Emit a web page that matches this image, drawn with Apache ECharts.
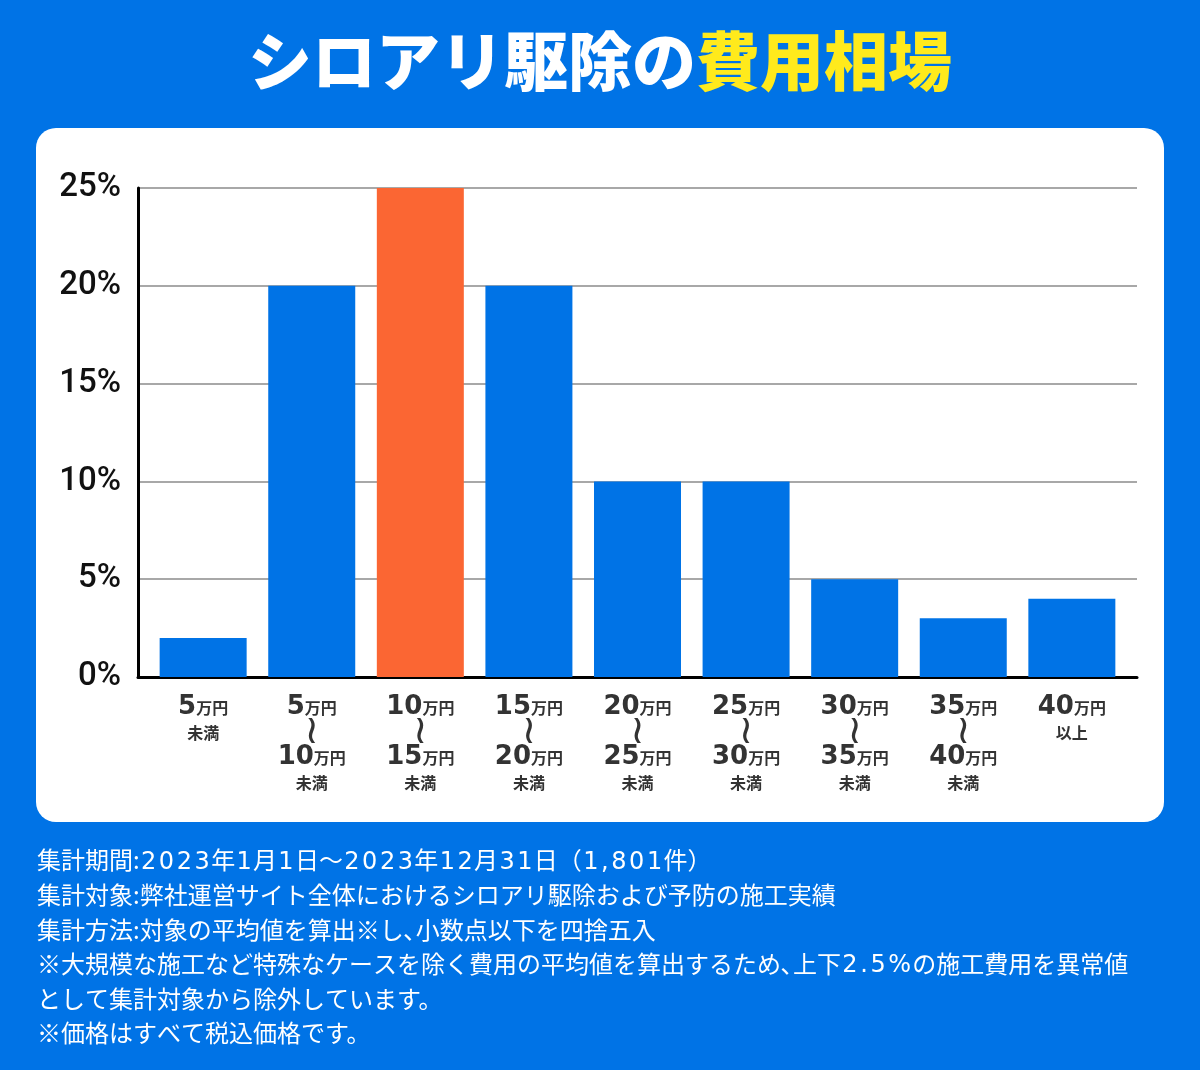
<!DOCTYPE html>
<html>
<head>
<meta charset="utf-8">
<script src="https://cdn.jsdelivr.net/npm/echarts@6/dist/echarts.min.js"></script>
<style>
html,body{margin:0;padding:0;background:#0073E6;}
#chart{width:1200px;height:1070px;}
</style>
</head>
<body>
<div id="chart"></div>
<script>
// ---- data ----
const titleWhite = 'シロアリ駆除の';
const titleYellow = '費用相場';
const categories = [
  '5万円未満',
  '5万円〜10万円未満',
  '10万円〜15万円未満',
  '15万円〜20万円未満',
  '20万円〜25万円未満',
  '25万円〜30万円未満',
  '30万円〜35万円未満',
  '35万円〜40万円未満',
  '40万円以上'
];
const shares = [2, 20, 25, 20, 10, 10, 5, 3, 4];
const yTicks = [0, 5, 10, 15, 20, 25];
const notes = [
  '集計期間:2023年1月1日〜2023年12月31日（1,801件）',
  '集計対象:弊社運営サイト全体におけるシロアリ駆除および予防の施工実績',
  '集計方法:対象の平均値を算出※し､小数点以下を四捨五入',
  '※大規模な施工など特殊なケースを除く費用の平均値を算出するため､上下2.5%の施工費用を異常値',
  'として集計対象から除外しています。',
  '※価格はすべて税込価格です。'
];

// ---- styling ----
const BLUE = '#0073E6';
const ORANGE = '#FB6633';
const YELLOW = '#FFEA1C';
const CJK = '"Noto Sans CJK JP", "DejaVu Sans", sans-serif';
const highlight = shares.indexOf(Math.max.apply(null, shares));

function catLabel(name) {
  return name.split('〜').map(function (part) {
    const m = part.match(/^(\d+)万円(.*)$/);
    let s = '{num|' + m[1] + '}{unit|万円}';
    if (m[2]) s += '\n{sub|' + m[2] + '}';
    return s;
  }).join('\n{tilde|≀}\n');
}
function noteText(lines) {
  return lines.map(function (l) {
    return l.split(/([0-9.,%]+)/).map(function (seg, k) {
      if (!seg) return '';
      if (k % 2 === 1) {
        return seg.split('').map(function (ch) { return '{d|' + ch + '}'; }).join('');
      }
      return '{c|' + seg + '}';
    }).join('');
  }).join('\n');
}

const chart = echarts.init(document.getElementById('chart'), null, {renderer: 'canvas'});
const option = {
  backgroundColor: BLUE,
  animation: false,
  graphic: [
    {
      type: 'rect', z: -10, silent: true,
      shape: {x: 36, y: 128, width: 1128, height: 694, r: 20},
      style: {fill: '#ffffff'}
    },
    {
      type: 'text', left: 'center', top: 29,
      style: {
        text: '{w|' + titleWhite + '}{y|' + titleYellow + '}',
        font: '900 64px ' + CJK,
        rich: {
          w: {fill: '#ffffff', font: '900 64px ' + CJK},
          y: {fill: YELLOW, font: '900 64px ' + CJK}
        }
      }
    },
    {
      type: 'text', left: 37, top: 843,
      style: {
        text: noteText(notes),
        fill: '#ffffff',
        font: '400 24px ' + CJK,
        lineHeight: 34.6,
        rich: {
          c: {fill: '#ffffff', font: '400 24px ' + CJK, lineHeight: 34.6},
          d: {fill: '#ffffff', font: '400 24px "DejaVu Sans", sans-serif', lineHeight: 34.6, padding: [4, 1.3, 0, 1.3]}
        }
      }
    }
  ],
  grid: {left: 138, right: 63, top: 188, bottom: 393},
  xAxis: {
    type: 'value', min: -0.6, max: categories.length - 0.4,
    axisLine: {show: true, lineStyle: {color: '#000', width: 3}},
    axisTick: {show: false}, axisLabel: {show: false}, splitLine: {show: false}
  },
  yAxis: {
    type: 'value', min: yTicks[0], max: yTicks[yTicks.length - 1], interval: yTicks[1] - yTicks[0],
    axisLine: {show: true, onZero: false, lineStyle: {color: '#000', width: 3}},
    axisTick: {show: false},
    axisLabel: {
      formatter: '{value}%', color: '#111', margin: 17,
      fontFamily: 'Roboto, sans-serif', fontSize: 33, fontWeight: 500
    },
    splitLine: {lineStyle: {color: '#A8A8A8', width: 2}}
  },
  series: [{
    type: 'bar',
    barWidth: 87,
    data: shares.map(function (v, i) {
      return {value: [i, v], itemStyle: {color: i === highlight ? ORANGE : BLUE}};
    }),
    label: {
      show: true, position: 'bottom', distance: 18,
      formatter: function (p) { return catLabel(categories[p.dataIndex]); },
      color: '#333',
      rich: {
        num: {fontFamily: '"DejaVu Sans", sans-serif', fontWeight: 700, fontSize: 26, lineHeight: 25, color: '#333', verticalAlign: 'bottom'},
        unit: {fontFamily: CJK, fontWeight: 700, fontSize: 16, lineHeight: 22, color: '#333', verticalAlign: 'bottom', padding: [0, 0, 4, 0]},
        tilde: {fontFamily: '"DejaVu Sans", sans-serif', fontWeight: 400, fontSize: 40, lineHeight: 25, color: '#333'},
        sub: {fontFamily: CJK, fontWeight: 700, fontSize: 16, lineHeight: 25, color: '#333'}
      }
    }
  }]
};
chart.setOption(option);
</script>
</body>
</html>
